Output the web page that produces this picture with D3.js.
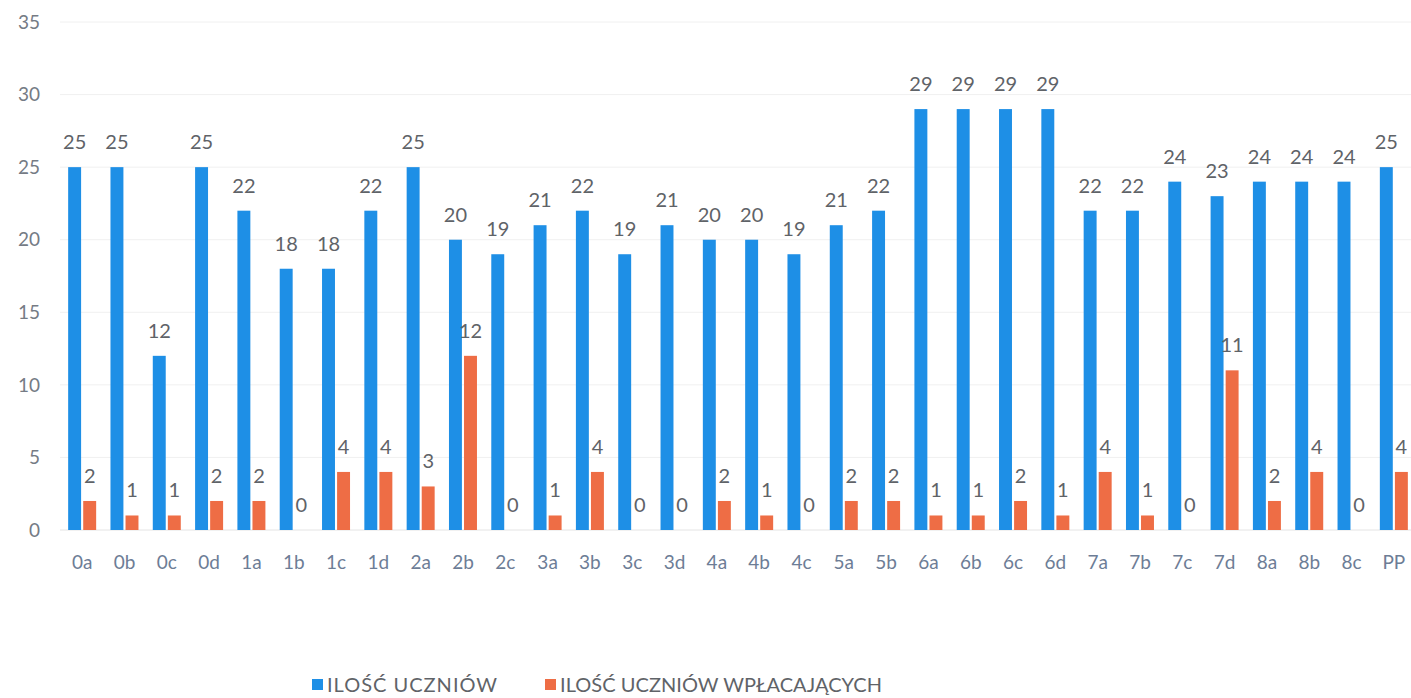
<!DOCTYPE html>
<html><head><meta charset="utf-8">
<script src="https://cdn.jsdelivr.net/npm/d3@7"></script>
<style>body{margin:0;background:#fff}svg{display:block}</style>
</head><body><svg id="c" width="1411" height="698"></svg>
<script>
const categories = ["0a","0b","0c","0d","1a","1b","1c","1d","2a","2b","2c","3a","3b","3c","3d","4a","4b","4c","5a","5b","6a","6b","6c","6d","7a","7b","7c","7d","8a","8b","8c","PP"];
const students = [25,25,12,25,22,18,18,22,25,20,19,21,22,19,21,20,20,19,21,22,29,29,29,29,22,22,24,23,24,24,24,25];
const paying = [2,1,1,2,2,0,4,4,3,12,0,1,4,0,0,2,1,0,2,2,1,1,2,1,4,1,0,11,2,4,0,4];
const yTicks = [0,5,10,15,20,25,30,35];
const seriesNames = ["ILOŚĆ UCZNIÓW","ILOŚĆ UCZNIÓW WPŁACAJĄCYCH"];
const colors = ["#1e8fe6","#ee6d45"];

const svg = d3.select("#c");
const font = "Lato, 'Open Sans', sans-serif";
const y = d3.scaleLinear().domain([0,35]).range([530,22]);
const x = d3.scaleBand().domain(categories).range([61,1415]).padding(0);
const sub = d3.scaleBand().domain([0,1]).range([0,28]).paddingInner(0.14);
const off = (x.bandwidth()-28)/2;

svg.append("g").selectAll("line").data(yTicks).join("line")
  .attr("x1",60).attr("x2",1411).attr("y1",d=>y(d)).attr("y2",d=>y(d))
  .attr("stroke",d=>d===0?"#e4e4e4":"#f0f0f0").attr("stroke-width",1);

svg.append("g").selectAll("text").data(yTicks).join("text")
  .attr("x",40).attr("y",d=>y(d)).attr("dy","0.35em").attr("text-anchor","end")
  .attr("font-family",font).attr("font-size",19).attr("fill","#757b85").text(d=>d);

const rows = categories.map((c,i)=>({c, v:[students[i],paying[i]]}));
const g = svg.append("g").selectAll("g").data(rows).join("g")
  .attr("transform",d=>`translate(${x(d.c)+off},0)`);
[0,1].forEach(s=>{
  g.append("rect").attr("x",sub(s)).attr("width",sub.bandwidth())
    .attr("y",d=>y(d.v[s])).attr("height",d=>y(0)-y(d.v[s])).attr("fill",colors[s]);
  g.append("text").attr("x",sub(s)+sub.bandwidth()/2).attr("y",d=>y(d.v[s])-18)
    .attr("text-anchor","middle").attr("font-family",font).attr("font-size",20)
    .attr("fill","#5f6368").text(d=>d.v[s]);
});

svg.append("g").selectAll("text").data(categories).join("text")
  .attr("x",d=>x(d)+x.bandwidth()/2).attr("y",562).attr("dy","0.35em").attr("text-anchor","middle")
  .attr("font-family",font).attr("font-size",19).attr("fill","#6d7d96").text(d=>d);

const leg = svg.append("g");
const lx = [312,545];
const lw = [170,322];
seriesNames.forEach((n,i)=>{
  leg.append("rect").attr("x",lx[i]).attr("y",679).attr("width",11).attr("height",11).attr("fill",colors[i]);
  leg.append("text").attr("x",lx[i]+15).attr("y",685).attr("dy","0.35em")
    .attr("font-family",font).attr("font-size",20).attr("fill","#5f6368")
    .attr("textLength",lw[i]).attr("lengthAdjust","spacing").text(n);
});
</script></body></html>
